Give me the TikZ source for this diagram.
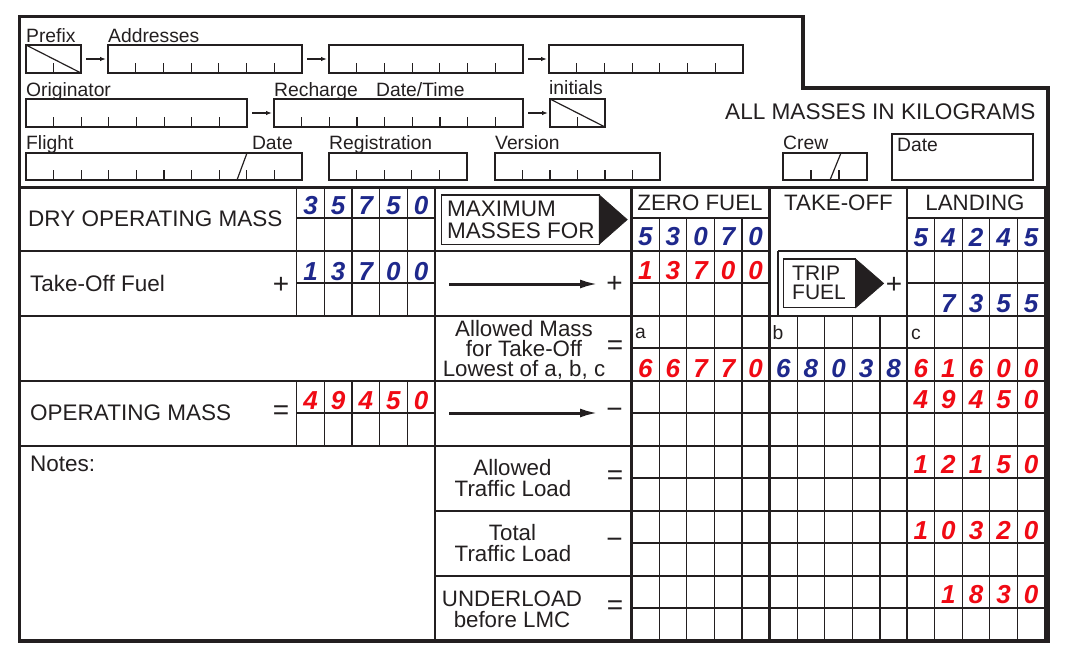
\documentclass[tikz,border=0pt]{standalone}
\usepackage{fontspec}
\setmainfont{Liberation Sans}
\usetikzlibrary{arrows.meta}
\definecolor{ink}{RGB}{35,31,32}
\definecolor{dblue}{RGB}{30,40,140}
\definecolor{dred}{RGB}{240,10,20}
\newcommand\fsz[1]{\fontsize{#1}{#1}\selectfont}
\newcommand\tickbox[6]{%
  \node[fbox, minimum width={#4-#2}, minimum height={#5-#3}] (#1) at ({(#2+#4)/2},{(#3+#5)/2}) {};
  \pgfmathtruncatemacro\tbn{#6-1}%
  \foreach \k in {1,...,\tbn}{\draw[gridl] ({#2+\k*(#4-#2)/#6},#5) -- ++(0,-10);}%
}
\newcommand\digitrow[5]{%
  \foreach \d [count=\i] in {#5}{\node[dig, text=#4] (#1\i) at ({#2+(\i-0.5)*27.6},#3) {\d};}%
}
\tikzset{
  fbox/.style={draw=ink, line width=1.3pt, inner sep=0pt, outer sep=0pt, rectangle},
  gridl/.style={draw=ink, line width=1.2pt},
  colline/.style={draw=ink, line width=2.4pt},
  outerframe/.style={draw=ink, line width=3.6pt, line join=miter},
  lbl/.style={font=\fsz{19.3}, text=ink, inner sep=0pt, anchor=base west},
  big/.style={font=\fsz{22.5}, text=ink, inner sep=0pt, anchor=base west},
  bigc/.style={font=\fsz{22.3}, text=ink, inner sep=0pt, anchor=base},
  tight/.style={text height=15pt, text depth=0pt},
  dig/.style={font=\fsz{26}\bfseries\itshape, inner sep=0pt, anchor=base},
  sgn/.style={font=\fsz{28}, text=ink, inner sep=0pt},
  sarr/.style={draw=ink, line width=1.2pt, -{Latex[length=6pt,width=4.5pt]}, shorten <=5pt, shorten >=2pt},
  bigarr/.style={draw=ink, line width=3pt, -{Latex[length=18pt,width=9pt]}},
  flag/.style={fill=ink, draw=ink, line width=0.6pt, line join=miter},
}
\begin{document}
\begin{tikzpicture}[x=1pt,y=-1pt]
\useasboundingbox (0,0) rectangle (1071,663);

% ---------- header boxes ----------
\tickbox{prefix}{26}{45}{81}{73}{2}
\draw[gridl] (prefix.north west) -- (prefix.south east);
\tickbox{addr1}{108}{45}{302}{73}{7}
\tickbox{addr2}{329}{45}{523}{73}{7}
\tickbox{addr3}{549}{45}{743}{73}{7}
\draw[sarr] (prefix) -- (addr1);
\draw[sarr] (addr1) -- (addr2);
\draw[sarr] (addr2) -- (addr3);

\tickbox{orig}{26}{99}{247}{127}{8}
\tickbox{rech}{274}{99}{523}{127}{9}
\tickbox{init}{550}{99}{605}{127}{2}
\draw[gridl] (init.north west) -- (init.south east);
\draw[sarr] (orig) -- (rech);
\draw[sarr] (rech) -- (init);

\tickbox{flight}{26}{153}{302}{180}{10}
\draw[gridl] (247,153) -- (237,180);
\tickbox{regi}{329}{153}{467}{180}{5}
\tickbox{vers}{495}{153}{660}{180}{6}
\tickbox{crew}{783}{153}{867}{180}{3}
\draw[gridl] (841,153) -- (830,180);
\node[fbox, minimum width=141, minimum height=46] (datebox) at (962.5,157) {};

\node[lbl] (lprefix) at (26,43) {Prefix};
\node[lbl] (laddr) at (108,43) {Addresses};
\node[lbl] (lorig) at (26,97) {Originator};
\node[lbl] (lrech) at (274,97) {Recharge};
\node[lbl] (ldt) at (376,97) {Date/Time};
\node[lbl] (linit) at (549,94.5) {initials};
\node[lbl] (lflight) at (26,150) {Flight};
\node[lbl, anchor=base east] (lfdate) at (293,150) {Date};
\node[lbl] (lregi) at (329,150) {Registration};
\node[lbl] (lvers) at (495,150) {Version};
\node[lbl] (lcrew) at (783,150) {Crew};
\node[lbl] (ldate) at (897,152) {Date};
\node[big, font=\fsz{22.6}] (allm) at (725,119.5) {ALL MASSES IN KILOGRAMS};

% ---------- table grid ----------
\draw[gridl] (19.5,251) -- (769.5,251);
\draw[gridl] (778,251) -- (1045,251);
\foreach \y in {316,381,446} \draw[gridl] (19.5,\y) -- (1045,\y);
\foreach \y in {511,576} \draw[gridl] (435,\y) -- (1045,\y);
\foreach \y in {218,283} {\draw[gridl] (631.5,\y) -- (769.5,\y); \draw[gridl] (907,\y) -- (1045,\y);}
\foreach \y in {348,413,478,543,608} \draw[gridl] (631.5,\y) -- (1045,\y);
\foreach \y in {218,283,413} \draw[gridl] (296.8,\y) -- (435,\y);
\foreach \i in {0,...,4}{\pgfmathsetmacro\xx{296.8+\i*27.6}
  \draw[gridl] (\xx,187.5) -- (\xx,316); \draw[gridl] (\xx,381) -- (\xx,446);}
\foreach \i in {1,...,4}{\pgfmathsetmacro\xa{631.5+\i*27.6}\pgfmathsetmacro\xb{769.5+\i*27.6}\pgfmathsetmacro\xc{907+\i*27.6}
  \draw[gridl] (\xa,218) -- (\xa,641); \draw[gridl] (\xb,316) -- (\xb,641); \draw[gridl] (\xc,218) -- (\xc,641);}
\draw[gridl] (435,187.5) -- (435,641);
\draw[gridl] (1045,187.5) -- (1045,641);
\draw[gridl] (778,251) -- (778,316);
\foreach \x in {631.5,769.5,907} \draw[colline] (\x,187.5) -- (\x,641);
\draw[colline] (19.5,187.5) -- (1048,187.5);
\draw[outerframe] (19.5,16.5) -- (803,16.5) -- (803,88) -- (1048,88) -- (1048,641) -- (19.5,641) -- cycle;

% ---------- left labels ----------
\node[big] (ldom) at (28,227) {DRY OPERATING MASS};
\node[big] (ltof) at (30,291.5) {Take-Off Fuel};
\node[sgn] (stof) at (281,285) {+};
\node[big] (lom) at (30,420) {OPERATING MASS};
\node[sgn] (som) at (281,413) {=};
\node[big] (lnotes) at (30,471) {Notes:};

% ---------- middle column ----------
\node[fbox, minimum width=157.5, minimum height=49.3] (maxbox) at (520.5,219.6) {};
\fill[flag] (maxbox.north east) -- ++(28,24.65) -- (maxbox.south east) -- cycle;
\node[big] (lmax1) at (447,216.7) {MAXIMUM};
\node[big] (lmax2) at (447,238.3) {MASSES FOR};
\coordinate (ar1s) at (449,284);
\coordinate (ar1e) at (598,284);
\draw[bigarr] (ar1s) -- (ar1e);
\node[sgn] (sar1) at (614.5,284.5) {+};
\node[bigc, tight] (lal1) at (524,336.7) {Allowed Mass};
\node[bigc, tight] (lal2) at (524,356.7) {for Take-Off};
\node[bigc, tight] (lal3) at (524,376.7) {Lowest of a, b, c};
\node[sgn] (sal) at (615,348) {=};
\coordinate (ar2s) at (449,413);
\coordinate (ar2e) at (598,413);
\draw[bigarr] (ar2s) -- (ar2e);
\node[sgn] (sar2) at (614.5,413.5) {−};
\node[bigc] (ltl1) at (512.5,475) {Allowed};
\node[bigc] (ltl2) at (513,496.7) {Traffic Load};
\node[sgn] (stl) at (615,478) {=};
\node[bigc] (ltt1) at (512.5,540) {Total};
\node[bigc] (ltt2) at (513,561.7) {Traffic Load};
\node[sgn] (stt) at (614.5,543.5) {−};
\node[bigc] (lul1) at (512,606) {UNDERLOAD};
\node[bigc] (lul2) at (512,627.3) {before LMC};
\node[sgn] (sul) at (615,608) {=};

% ---------- column headers ----------
\node[bigc] (hzf) at (700,211) {ZERO FUEL};
\node[bigc] (hto) at (838.5,211) {TAKE-OFF};
\node[bigc] (hl) at (975,210.5) {LANDING};
\node[fbox, minimum width=72.4, minimum height=48.7] (tripbox) at (819.5,283.4) {};
\fill[flag] (tripbox.north east) -- ++(28,24.35) -- (tripbox.south east) -- cycle;
\node[big, font=\fsz{21}] (ltrip1) at (792,280) {TRIP};
\node[big, font=\fsz{21}] (ltrip2) at (792,299.5) {FUEL};
\node[sgn] (strip) at (894,285) {+};
\node[lbl] (la) at (635,338.5) {a};
\node[lbl] (lb) at (772.5,339) {b};
\node[lbl] (lc) at (911,339) {c};

% ---------- figures ----------
\digitrow{dom}{296.8}{215}{dblue}{3,5,7,5,0}
\digitrow{tof}{296.8}{280}{dblue}{1,3,7,0,0}
\digitrow{om}{296.8}{409}{dred}{4,9,4,5,0}
\digitrow{zfa}{631.5}{245.5}{dblue}{5,3,0,7,0}
\digitrow{zfb}{631.5}{279.5}{dred}{1,3,7,0,0}
\digitrow{zfc}{631.5}{377.5}{dred}{6,6,7,7,0}
\digitrow{toa}{769.5}{377.5}{dblue}{6,8,0,3,8}
\digitrow{lda}{907}{247}{dblue}{5,4,2,4,5}
\digitrow{ldb}{934.6}{312}{dblue}{7,3,5,5}
\digitrow{ldc}{907}{377.5}{dred}{6,1,6,0,0}
\digitrow{ldd}{907}{408.5}{dred}{4,9,4,5,0}
\digitrow{lde}{907}{473.5}{dred}{1,2,1,5,0}
\digitrow{ldf}{907}{539}{dred}{1,0,3,2,0}
\digitrow{ldg}{934.6}{603.5}{dred}{1,8,3,0}
\end{tikzpicture}
\end{document}
